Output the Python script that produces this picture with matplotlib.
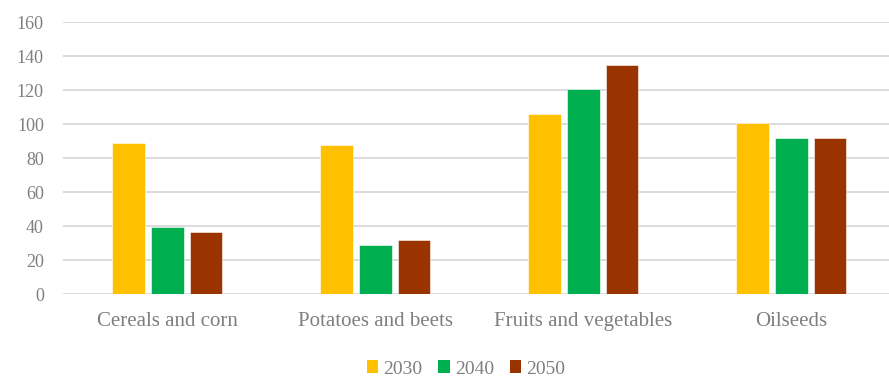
import numpy as np
import matplotlib.pyplot as plt
from matplotlib.patches import Patch

categories = ["Cereals and corn", "Potatoes and beets", "Fruits and vegetables", "Oilseeds"]
years = ["2030", "2040", "2050"]
v2030 = [89.2, 87.6, 105.8, 101.0]
v2040 = [39.6, 29.0, 120.6, 92.1]
v2050 = [36.4, 31.9, 134.9, 91.8]
colors = ["#FFC000", "#00B050", "#993300"]

plt.rcParams['font.family'] = ['Liberation Serif', 'DejaVu Serif']
grey = "#7f7f7f"

fig = plt.figure(figsize=(8.89, 3.78), dpi=100)
ax = fig.add_axes([63.3/889, 83.7/378, 832/889, 272/378])

x = np.arange(len(categories))
w = 0.156
step = 0.186
for i, (vals, c) in enumerate(zip([v2030, v2040, v2050], colors)):
    ax.bar(x + (i - 1) * step, vals, width=w, color=c, edgecolor="white",
           linewidth=0.4, zorder=3)

ax.set_xlim(-0.5, len(categories) - 0.5)
ax.set_ylim(0, 160)
ax.set_yticks(range(0, 161, 20))
ax.yaxis.grid(True, color="#d9d9d9", linewidth=1.3, zorder=0)
for s in ax.spines.values():
    s.set_visible(False)
ax.tick_params(axis="y", length=0, pad=14, labelsize=13, labelcolor=grey)
ax.tick_params(axis="x", length=0, pad=12.5, labelsize=15, labelcolor=grey)
ax.set_xticks(x)
ax.set_xticklabels(categories)

handles = [Patch(facecolor=c, edgecolor="none") for c in colors]
fig.legend(handles, years, loc="center", bbox_to_anchor=(466/889, 1 - 369/378),
           ncol=3, frameon=False, fontsize=14, labelcolor=grey,
           handlelength=0.6, handleheight=0.6, handletextpad=0.26,
           columnspacing=0.8, borderpad=0)

fig.savefig("out.png", dpi=100)
